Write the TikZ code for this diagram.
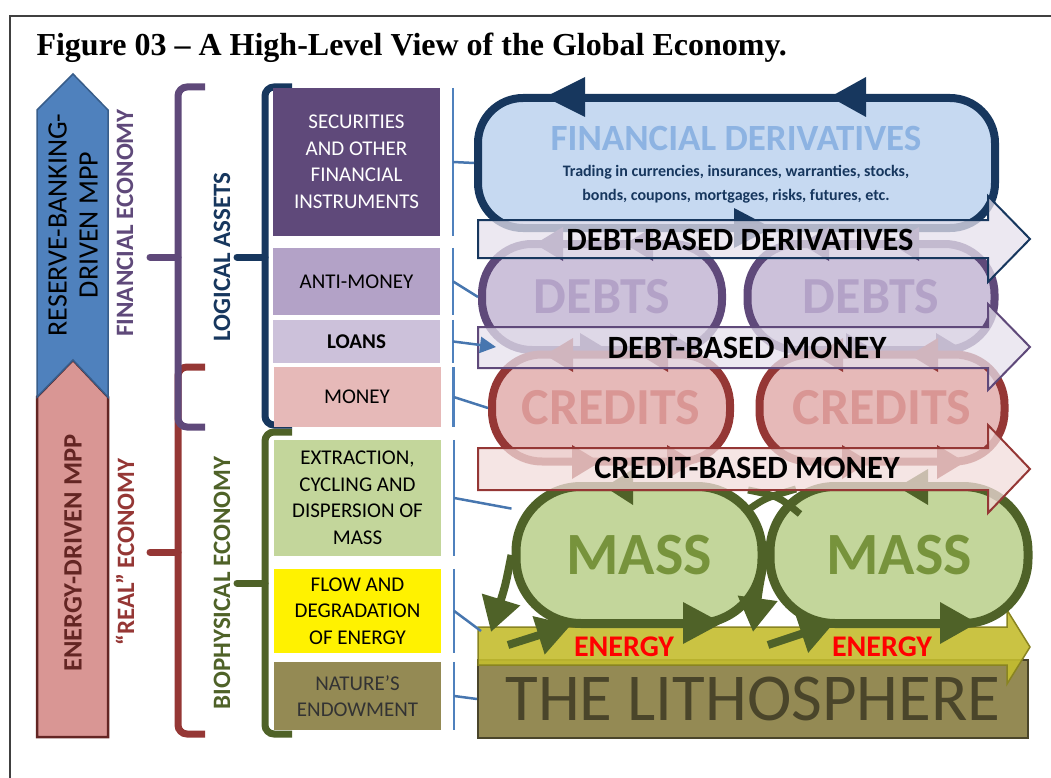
\documentclass[tikz,border=0pt]{standalone}
\usepackage{fontspec}
\setmainfont{Carlito}
\newfontfamily\titlefont{Liberation Serif}
\usetikzlibrary{arrows.meta}

\definecolor{navy}{HTML}{17375E}
\definecolor{steel}{HTML}{4F81BD}
\definecolor{steeldark}{HTML}{385D8A}
\definecolor{plum}{HTML}{5F497A}
\definecolor{lilac}{HTML}{B3A2C7}
\definecolor{lilacpale}{HTML}{CCC1DA}
\definecolor{lilacwash}{HTML}{E5E0EC}
\definecolor{brick}{HTML}{953735}
\definecolor{maroon}{HTML}{632523}
\definecolor{rose}{HTML}{D99694}
\definecolor{rosepale}{HTML}{E6B9B8}
\definecolor{rosewash}{HTML}{F2DCDB}
\definecolor{moss}{HTML}{4F6228}
\definecolor{leaf}{HTML}{77933C}
\definecolor{leafpale}{HTML}{C3D69B}
\definecolor{khaki}{HTML}{948A54}
\definecolor{khakidark}{HTML}{4A452A}
\definecolor{skypale}{HTML}{C6D9F1}
\definecolor{sky}{HTML}{8DB3E2}
\definecolor{mustard}{HTML}{C4BD2F}

\tikzstyle{stratum}= [rectangle,minimum width=167,inner sep=0,align=center,font=\fontsize{21}{26.5}\selectfont]
\tikzstyle{tag}= [rotate=90,align=center,font=\bfseries\fontsize{25}{28}\selectfont]
\tikzstyle{brace}= [line width=7,rounded corners=9]
\tikzstyle{stem}= [steel,line width=2.5]
\tikzstyle{link}= [steel!85!navy,line width=2.5]
\tikzstyle{loopbox}= [rectangle,rounded corners=50,line width=8,inner sep=0,font=\bfseries\fontsize{52}{52}\selectfont]
\tikzstyle{band}= [line width=2,fill opacity=0.75]
\tikzstyle{bandtext}= [font=\bfseries\fontsize{32.5}{32.5}\selectfont]
\tikzstyle{swirl}= [moss,line width=8,-{Triangle[length=34pt,width=38pt]}]

\begin{document}
\begin{tikzpicture}[x=1pt,y=-1pt]

		\useasboundingbox (0,0) rectangle (1051,778);
		\draw[black!75,line width=1.3] (10,778) -- (10,16) -- (1051,16);
		\node (title) at (33,56) [anchor=base west,font=\titlefont\bfseries\fontsize{32}{32}\selectfont] {Figure 03 – A High-Level View of the Global Economy.};

		\draw[maroon,fill=rose,line width=2.5] (37,397) -- (73,360) -- (108,397) -- (108,737) -- (37,737) -- cycle;
		\draw[steeldark,fill=steel,line width=1.5] (37,110) -- (73,74) -- (108,110) -- (108,397) -- (73,360) -- (37,397) -- cycle;
		\node (rbmpp) at (73,225) [rotate=90,align=center,font=\fontsize{28}{31}\selectfont] {RESERVE-BANKING-\\DRIVEN MPP};
		\node (edmpp) at (73,553) [rotate=90,maroon,font=\bfseries\fontsize{26.5}{30}\selectfont] {ENERGY-DRIVEN MPP};

		\node (fin) at (125,223) [tag,plum] {FINANCIAL ECONOMY};
		\node (real) at (125,552) [tag,brick] {“REAL” ECONOMY};
		\node (logic) at (222,257) [tag,navy] {LOGICAL ASSETS};
		\node (bio) at (222,583) [tag,moss] {BIOPHYSICAL ECONOMY};

		\draw[brace,brick] (205,367) -- (178,367) -- (178,734) -- (205,734);
		\draw[brace,brick,line cap=round] (178,552) -- (150,552);
		\draw[brace,plum] (205,87) -- (178,87) -- (178,427) -- (205,427);
		\draw[brace,plum,line cap=round] (178,257) -- (150,257);
		\draw[brace,moss] (292,432) -- (265,432) -- (265,734) -- (292,734);
		\draw[brace,moss,line cap=round] (265,583) -- (237,583);
		\draw[brace,navy] (292,87) -- (265,87) -- (265,425) -- (292,425);
		\draw[brace,navy,line cap=round] (265,257) -- (237,257);

		\node (sec) at (356.5,162) [stratum,fill=plum,text=white,minimum height=148] {SECURITIES\\AND OTHER\\FINANCIAL\\INSTRUMENTS};
		\node (anti) at (356.5,281.5) [stratum,fill=lilac,minimum height=67] {ANTI-MONEY};
		\node (loans) at (356.5,341.5) [stratum,fill=lilacpale,minimum height=43,font=\bfseries\fontsize{21}{26.5}\selectfont] {LOANS};
		\node (money) at (357,397) [stratum,fill=rosepale,minimum height=60] {MONEY};
		\node (extr) at (357.5,498) [stratum,fill=leafpale,minimum height=116] {EXTRACTION,\\CYCLING AND\\DISPERSION OF\\MASS};
		\node (flowbox) at (357.5,611) [stratum,fill=yellow,minimum height=84] {FLOW AND\\DEGRADATION\\OF ENERGY};
		\node (nature) at (357.5,696) [stratum,fill=khaki,text=black!80,minimum height=68] {NATURE’S\\ENDOWMENT};

		\node (fd) at (736.5,163) [loopbox,draw=navy,fill=skypale,rounded corners=45,minimum width=517,minimum height=130] {};
		\fill[navy] (545,97) -- (585,77) -- (585,117) -- cycle;
		\fill[navy] (830,97) -- (866,77) -- (866,117) -- cycle;
		\fill[navy] (772,228) -- (734,208) -- (734,248) -- cycle;
		\node (fdname) at (736,138) [sky,font=\bfseries\fontsize{37}{37}\selectfont] {FINANCIAL DERIVATIVES};
		\node (fdnote) at (736,184) [navy,align=center,font=\bfseries\fontsize{16}{24}\selectfont] {Trading in currencies, insurances, warranties, stocks,\\bonds, coupons, mortgages, risks, futures, etc.};

		\node (debt1) at (602,297) [loopbox,draw=plum,fill=lilacpale,text=lilac,minimum width=240,minimum height=106] {DEBTS};
		\node (debt2) at (871,297) [loopbox,draw=plum,fill=lilacpale,text=lilac,minimum width=247,minimum height=106] {DEBTS};
		\fill[plum] (535,244) -- (563,227) -- (563,261) -- cycle;
		\fill[plum] (625,244) -- (653,227) -- (653,261) -- cycle;
		\fill[plum] (801,244) -- (829,227) -- (829,261) -- cycle;
		\fill[plum] (891,244) -- (919,227) -- (919,261) -- cycle;
		\fill[plum] (608,350) -- (580,333) -- (580,367) -- cycle;
		\fill[plum] (698,350) -- (670,333) -- (670,367) -- cycle;
		\fill[plum] (874,350) -- (846,333) -- (846,367) -- cycle;
		\fill[plum] (964,350) -- (936,333) -- (936,367) -- cycle;
		\draw[band,draw=navy,fill=lilacwash] (478,220) -- (988,220) -- (988,196) -- (1030,239) -- (988,282) -- (988,258) -- (478,258) -- cycle;
		\node (dbd) at (740,240) [bandtext] {DEBT-BASED DERIVATIVES};

		\node (credit1) at (611,408) [loopbox,draw=brick,fill=rosepale,text=rose,minimum width=238,minimum height=107] {CREDITS};
		\node (credit2) at (882,408) [loopbox,draw=brick,fill=rosepale,text=rose,minimum width=245,minimum height=107] {CREDITS};
		\fill[brick] (545,355) -- (573,338) -- (573,372) -- cycle;
		\fill[brick] (640,355) -- (668,338) -- (668,372) -- cycle;
		\fill[brick] (815,355) -- (843,338) -- (843,372) -- cycle;
		\fill[brick] (910,355) -- (938,338) -- (938,372) -- cycle;
		\fill[brick] (600,462) -- (572,445) -- (572,479) -- cycle;
		\fill[brick] (695,462) -- (667,445) -- (667,479) -- cycle;
		\fill[brick] (870,462) -- (842,445) -- (842,479) -- cycle;
		\fill[brick] (965,462) -- (937,445) -- (937,479) -- cycle;
		\draw[band,draw=plum,fill=lilacwash] (478,327) -- (988,327) -- (988,304) -- (1030,347) -- (988,390) -- (988,368) -- (478,368) -- cycle;
		\node (dbm) at (747,348) [bandtext] {DEBT-BASED MONEY};

		\node (litho) at (753,699) [draw=khakidark,fill=khaki,line width=2,minimum width=550,minimum height=78,text=khakidark,font=\fontsize{67}{67}\selectfont] {THE LITHOSPHERE};
		\draw[band,draw=mustard!70!black,fill=mustard,fill opacity=0.9,line width=1.5] (478,627) -- (1007,627) -- (1007,610) -- (1030,647) -- (1007,684) -- (1007,665) -- (478,665) -- cycle;

		\node (mass1) at (639,555) [loopbox,draw=moss,fill=leafpale,text=leaf,line width=9,rounded corners=65,minimum width=246,minimum height=137,font=\bfseries\fontsize{60}{60}\selectfont] {MASS};
		\node (mass2) at (899,555) [loopbox,draw=moss,fill=leafpale,text=leaf,line width=9,rounded corners=65,minimum width=258,minimum height=137,font=\bfseries\fontsize{60}{60}\selectfont] {MASS};
		\fill[moss] (605,487) -- (633,469) -- (633,505) -- cycle;
		\fill[moss] (898,487) -- (928,469) -- (928,505) -- cycle;
		\fill[moss] (722,623) -- (683,602) -- (683,644) -- cycle;
		\fill[moss] (977,623) -- (940,602) -- (940,644) -- cycle;
		\draw[moss,line width=7] (745,512) .. controls (765,498) .. (796,489);
		\draw[moss,line width=7] (748,490) .. controls (778,496) .. (800,514);
		\coordinate (drop1) at (491,632);
		\coordinate (drop2) at (753,632);
		\coordinate (feed1) at (508,645);
		\coordinate (feed2) at (768,645);
		\coordinate (rise1) at (571,625);
		\coordinate (rise2) at (834,623);
		\draw[swirl] (mass1.west) .. controls +(-6,30) .. (drop1);
		\draw[swirl] (mass2.west) .. controls +(-6,30) .. (drop2);
		\draw[swirl] (feed1) -- (rise1);
		\draw[swirl] (feed2) -- (rise2);
		\node (energy1) at (624,647) [red,font=\bfseries\fontsize{30}{30}\selectfont] {ENERGY};
		\node (energy2) at (882,647) [red,font=\bfseries\fontsize{30}{30}\selectfont] {ENERGY};

		\draw[band,draw=brick,fill=rosewash] (478,448) -- (988,448) -- (988,425) -- (1030,469) -- (988,513) -- (988,490) -- (478,490) -- cycle;
		\node (cbm) at (747,468) [bandtext] {CREDIT-BASED MONEY};

		\coordinate (loanin) at (496,347);
		\coordinate (egyin) at (481,631);

		\draw[stem] ([xshift=13pt]sec.north east) -- ([xshift=13pt]sec.south east);
		\draw[stem] ([xshift=13pt]anti.north east) -- ([xshift=13pt]anti.south east);
		\draw[stem] ([xshift=13pt]loans.north east) -- ([xshift=13pt]loans.south east);
		\draw[stem] ([xshift=13pt]money.north east) -- ([xshift=13pt]money.south east);
		\draw[stem] ([xshift=13pt]extr.north east) -- ([xshift=13pt]extr.south east);
		\draw[stem] ([xshift=13pt]flowbox.north east) -- ([xshift=13pt]flowbox.south east);
		\draw[stem] ([xshift=13pt]nature.north east) -- ([xshift=13pt]nature.south east);

		\draw[link] ([xshift=13pt]sec.east) -- (fd.west);
		\draw[link] ([xshift=13pt]anti.east) -- (debt1.west);
		\draw[link,-{Triangle[length=16pt,width=16pt]}] ([xshift=13pt]loans.east) -- (loanin);
		\draw[link] ([xshift=13pt]money.east) -- (credit1.west);
		\draw[link] ([xshift=13pt]extr.east) -- (mass1.160);
		\draw[link] ([xshift=13pt]flowbox.east) -- (egyin);
		\draw[link] ([xshift=13pt]nature.east) -- (litho.west);

	\end{tikzpicture}
\end{document}
